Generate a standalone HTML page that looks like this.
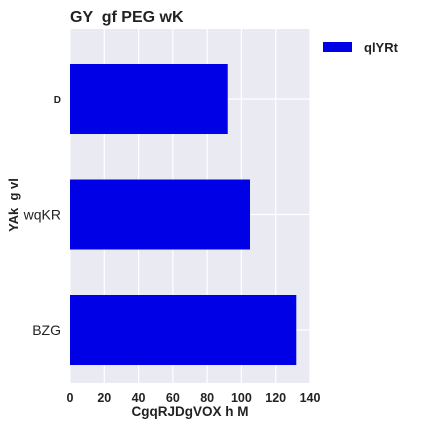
<!DOCTYPE html>
<html><head><meta charset="utf-8"><style>
body{margin:0;background:#fff;}
svg{display:block;font-family:"Liberation Sans",sans-serif;}
text{white-space:pre;}
</style></head><body>
<svg id="c" width="427" height="427">
<rect x="0" y="0" width="427" height="427" fill="#fff"/>
<text x="70" y="22" font-size="16" font-weight="bold" fill="#222">GY  gf PEG wK</text>
<rect x="70" y="29" width="240" height="354" fill="#eaeaf2"/>
<g id="grid"></g><g id="bars"></g><g id="xt"></g><g id="yt"></g>
<text x="190" y="416" font-size="13.5" font-weight="bold" text-anchor="middle" fill="#222">CgqRJDgVOX h M</text>
<text transform="translate(18,205) rotate(-90)" font-size="13" font-weight="bold" text-anchor="middle" fill="#222">YAk  g vl</text>
<g>
<rect x="323" y="42" width="29" height="10" fill="#0000e6"/>
<text x="364" y="52" font-size="13" font-weight="bold" fill="#222">qlYRt</text>
</g>
</svg>
<script>
const categories=["D","wqKR","BZG"];
const values=[92,105,132];
const xTicks=[0,20,40,60,80,100,120,140];
const NS="http://www.w3.org/2000/svg";
const x=v=>70+v*240/140;
const y=i=>99+i*115.5;
const bh=70;
function mk(t,a,p){const e=document.createElementNS(NS,t);for(const k in a)e.setAttribute(k,a[k]);p.appendChild(e);return e;}
const grid=document.getElementById('grid'),bars=document.getElementById('bars'),xt=document.getElementById('xt'),yt=document.getElementById('yt');
xTicks.forEach(t=>{
 const l=mk('line',{x1:x(t),x2:x(t),y1:29,y2:383,stroke:'#fff','stroke-width':1.2},grid);
 
 
 const tx=mk('text',{x:x(t),y:402,'font-size':12.5,'font-weight':'bold','text-anchor':'middle',fill:'#222'},xt);
 tx.textContent=t;
 
 
});
categories.forEach((c,i)=>{
 const l=mk('line',{x1:70,x2:310,y1:y(i),y2:y(i),stroke:'#fff','stroke-width':1.2},grid);
 
 
 const b=mk('rect',{x:x(0),y:y(i)-bh/2,width:x(values[i])-x(0),height:bh,fill:'#0000e6'},bars);
 
 
 const small=c.length===1;
 const tx=mk('text',{x:61,y:y(i)+(small?4:5),'font-size':small?10:14,'font-weight':small?'bold':'normal','text-anchor':'end',fill:'#222'},yt);
 tx.textContent=c;
 
 
});
</script>
</body></html>
